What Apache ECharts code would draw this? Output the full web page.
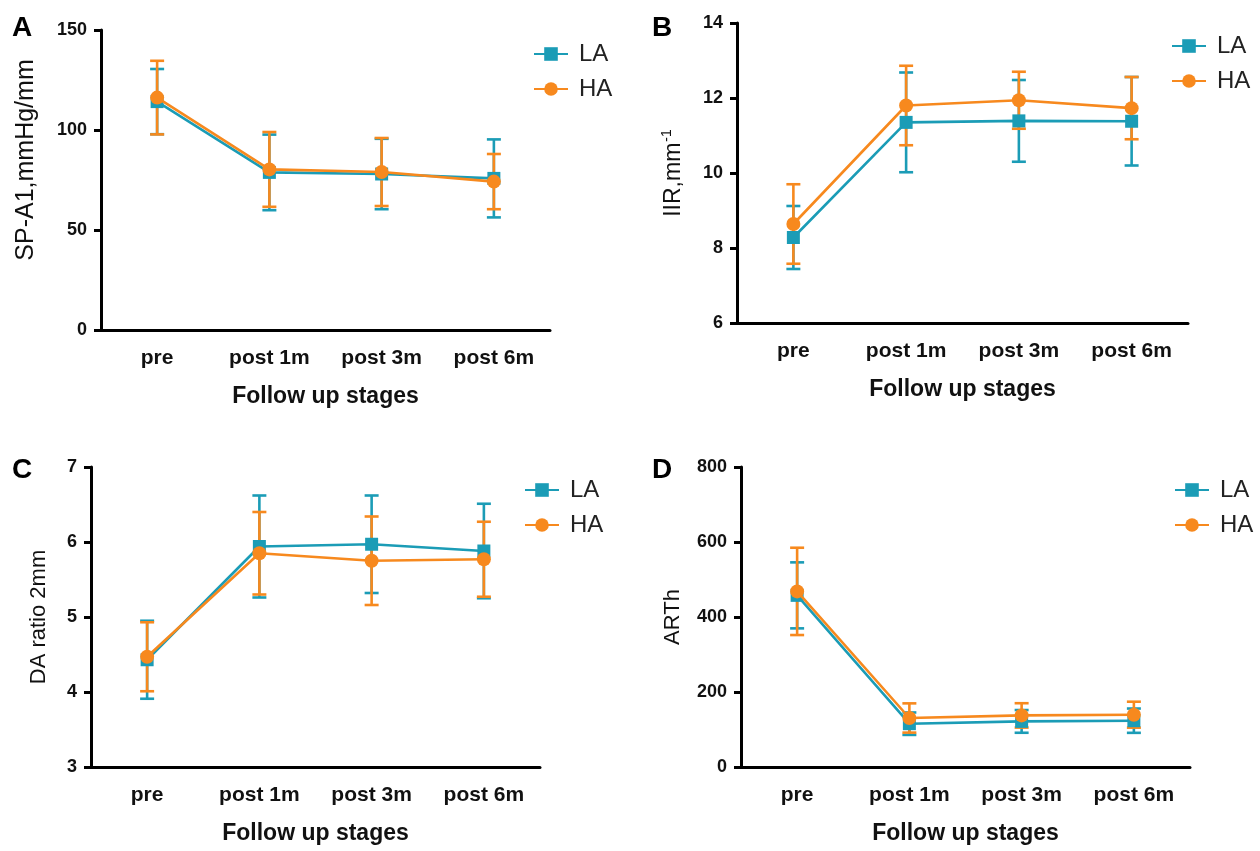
<!DOCTYPE html>
<html>
<head>
<meta charset="utf-8">
<script src="https://cdn.jsdelivr.net/npm/echarts@6/dist/echarts.min.js"></script>
<style>html,body{margin:0;padding:0;background:#fff;}#main{width:1260px;height:851px;}</style>
</head>
<body>
<div id="main"></div>
<script>
// ---- data ----
const categories = ['pre', 'post 1m', 'post 3m', 'post 6m'];

const spLA = [114.2, 78.8, 78.0, 75.8];
const spLA_sd = [16.3, 18.9, 17.6, 19.5];
const spHA = [116.2, 80.3, 79.0, 74.2];
const spHA_sd = [18.4, 18.7, 17.0, 13.8];

const iirLA = [8.28, 11.35, 11.39, 11.38];
const iirLA_sd = [0.84, 1.33, 1.09, 1.18];
const iirHA = [8.64, 11.80, 11.94, 11.73];
const iirHA_sd = [1.06, 1.06, 0.76, 0.83];

const daLA = [4.43, 5.94, 5.97, 5.88];
const daLA_sd = [0.52, 0.68, 0.65, 0.63];
const daHA = [4.47, 5.85, 5.75, 5.77];
const daHA_sd = [0.46, 0.55, 0.59, 0.50];

const arLA = [457.7, 115.5, 121.6, 123.5];
const arLA_sd = [88.0, 29.9, 30.3, 32.4];
const arHA = [468.3, 130.7, 137.6, 139.5];
const arHA_sd = [116.4, 39.0, 32.5, 34.6];

const yTicksA = {min: 0, max: 150, interval: 50};
const yTicksB = {min: 6, max: 14, interval: 2};
const yTicksC = {min: 3, max: 7, interval: 1};
const yTicksD = {min: 0, max: 800, interval: 200};

// ---- style ----
const TEAL = '#1b9cb6';
const ORANGE = '#f7891e';
const FONT = '"Liberation Sans", Arial, Helvetica, sans-serif';

const panels = [
  {grid: {left: 101, top: 30, width: 449, height: 300}, y: yTicksA, name: 'SP-A1,mmHg/mm', nameGap: 62,
   nameSize: 25, namePad: [0, 0, 0, 40],
   la: spLA, laSd: spLA_sd, ha: spHA, haSd: spHA_sd, legend: {left: 528, top: 37}, letter: ['A', 12, 14]},
  {grid: {left: 737, top: 23, width: 451, height: 300}, y: yTicksB, name: '{a|IIR,mm}{s|-1}', nameGap: 50,
   nameSize: 23, namePad: [0, 0, 0, 0],
   la: iirLA, laSd: iirLA_sd, ha: iirHA, haSd: iirHA_sd, legend: {left: 1166, top: 29}, letter: ['B', 652, 14]},
  {grid: {left: 91, top: 467, width: 449, height: 300}, y: yTicksC, name: 'DA ratio 2mm', nameGap: 41,
   nameSize: 22, namePad: [0, 0, 0, 0],
   la: daLA, laSd: daLA_sd, ha: daHA, haSd: daHA_sd, legend: {left: 519, top: 473}, letter: ['C', 12, 456]},
  {grid: {left: 741, top: 467, width: 449, height: 300}, y: yTicksD, name: 'ARTh', nameGap: 57,
   nameSize: 22, namePad: [0, 0, 0, 0],
   la: arLA, laSd: arLA_sd, ha: arHA, haSd: arHA_sd, legend: {left: 1169, top: 473}, letter: ['D', 652, 456]}
];

function errRender(color) {
  return function (params, api) {
    const x = api.value(0);
    const hi = api.coord([x, api.value(2)]);
    const lo = api.coord([x, api.value(1)]);
    const w = 7;
    const st = {stroke: color, lineWidth: 2.6};
    return {
      type: 'group',
      children: [
        {type: 'line', shape: {x1: hi[0], y1: hi[1], x2: lo[0], y2: lo[1]}, style: st},
        {type: 'line', shape: {x1: hi[0] - w, y1: hi[1], x2: hi[0] + w, y2: hi[1]}, style: st},
        {type: 'line', shape: {x1: lo[0] - w, y1: lo[1], x2: lo[0] + w, y2: lo[1]}, style: st}
      ]
    };
  };
}

const option = {
  backgroundColor: '#fff',
  animation: false,
  grid: [], xAxis: [], yAxis: [], series: [], legend: [], graphic: []
};

panels.forEach((p, i) => {
  option.grid.push(Object.assign({containLabel: false}, p.grid));
  option.xAxis.push({
    type: 'category', gridIndex: i, data: categories, boundaryGap: true,
    name: 'Follow up stages', nameLocation: 'middle', nameGap: 55,
    nameTextStyle: {fontFamily: FONT, fontWeight: 'bold', fontSize: 23, color: '#111'},
    axisLine: {lineStyle: {color: '#000', width: 3}},
    axisTick: {alignWithLabel: true, length: 7, lineStyle: {color: '#000', width: 3}},
    axisLabel: {fontFamily: FONT, fontWeight: 'bold', fontSize: 21, color: '#111', margin: 18, interval: 0},
    splitLine: {show: false}
  });
  option.yAxis.push({
    type: 'value', gridIndex: i, min: p.y.min, max: p.y.max, interval: p.y.interval,
    name: p.name, nameLocation: 'middle', nameGap: p.nameGap, nameRotate: 90,
    nameTextStyle: {fontFamily: FONT, fontSize: p.nameSize, color: '#111', padding: p.namePad,
      rich: {a: {fontFamily: FONT, fontSize: p.nameSize, color: '#111'},
             s: {fontFamily: FONT, fontSize: 14, color: '#111', padding: [0, 0, 13, 1]}}},
    axisLine: {show: true, lineStyle: {color: '#000', width: 3}},
    axisTick: {show: true, length: 7, lineStyle: {color: '#000', width: 3}},
    axisLabel: {fontFamily: FONT, fontWeight: 'bold', fontSize: 18, color: '#111', margin: 14},
    splitLine: {show: false}
  });
  const mk = (m, s) => m.map((v, k) => [k, +(v - s[k]).toFixed(3), +(v + s[k]).toFixed(3)]);
  option.series.push({
    type: 'custom', name: 'LA sd', xAxisIndex: i, yAxisIndex: i, z: 2,
    renderItem: errRender(TEAL), data: mk(p.la, p.laSd), silent: true
  });
  option.series.push({
    type: 'custom', name: 'HA sd', xAxisIndex: i, yAxisIndex: i, z: 3,
    renderItem: errRender(ORANGE), data: mk(p.ha, p.haSd), silent: true
  });
  option.series.push({
    type: 'line', name: 'LA', xAxisIndex: i, yAxisIndex: i, data: p.la, z: 4,
    symbol: 'rect', symbolSize: 13, itemStyle: {color: TEAL},
    lineStyle: {color: TEAL, width: 2.6}
  });
  option.series.push({
    type: 'line', name: 'HA', xAxisIndex: i, yAxisIndex: i, data: p.ha, z: 5,
    symbol: 'circle', symbolSize: 14, itemStyle: {color: ORANGE},
    lineStyle: {color: ORANGE, width: 2.6}
  });
  option.legend.push({
    data: ['LA', 'HA'], orient: 'vertical', left: p.legend.left, top: p.legend.top,
    itemWidth: 34, itemHeight: 17, itemGap: 11,
    textStyle: {fontFamily: FONT, fontSize: 24, color: '#222', padding: [0, 0, 0, 6]}
  });
  option.graphic.push({
    type: 'text', left: p.letter[1], top: p.letter[2],
    style: {text: p.letter[0], fontFamily: FONT, fontWeight: 'bold', fontSize: 28, fill: '#000'}
  });
});

const chart = echarts.init(document.getElementById('main'), null, {renderer: 'canvas'});
chart.setOption(option);
</script>
</body>
</html>
